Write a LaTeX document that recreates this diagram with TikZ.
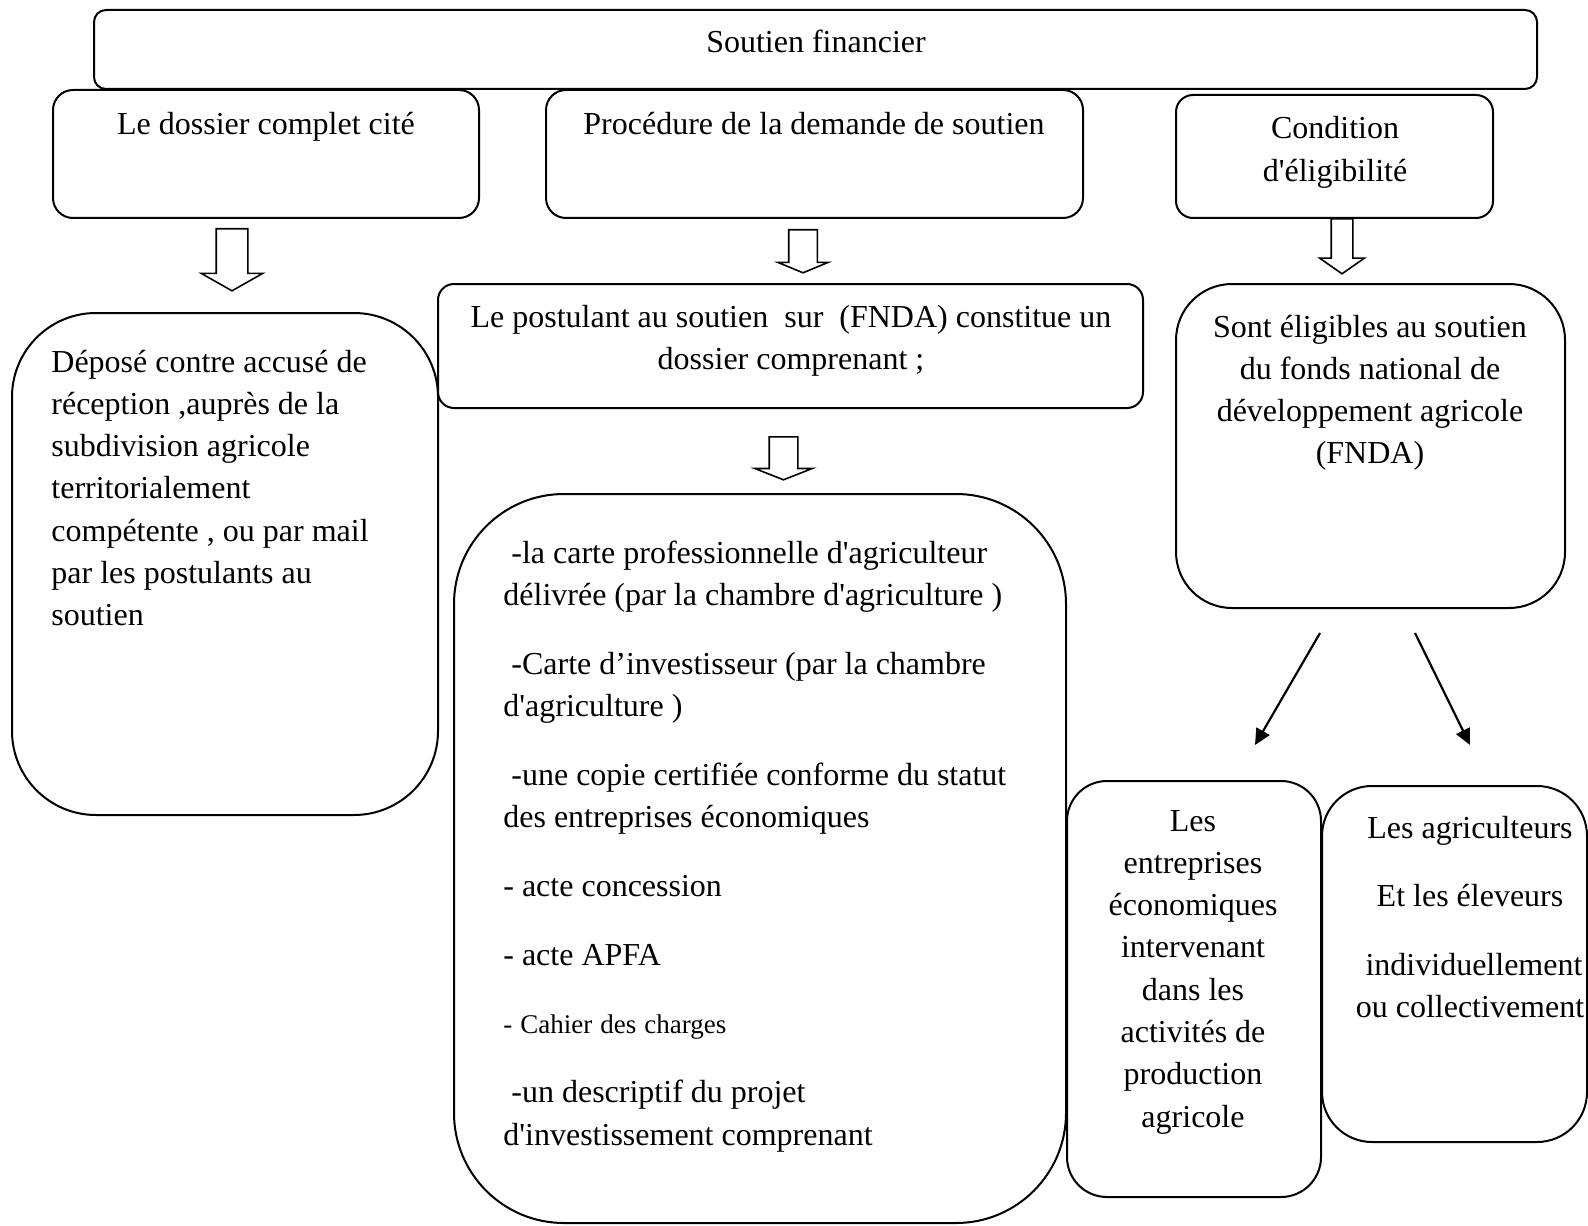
\documentclass[tikz,border=0pt]{standalone}
\usepackage{fontspec}
\setmainfont{Liberation Serif}[Ligatures=TeXOff]
\usetikzlibrary{shapes.arrows,arrows.meta}

\begin{document}
\begin{tikzpicture}[x=0.5pt,y=-0.5pt,
  boite/.style={draw, rounded corners=#1, line width=1pt, inner sep=0pt},
  texte/.style={font=\fontsize{16}{21.15}\selectfont, inner sep=0pt,
    execute at begin node={\spaceskip=\fontdimen2\font\xspaceskip=\fontdimen2\font}},
  creux/.style={draw, single arrow, shape border rotate=270,
    single arrow head indent=0pt, line width=0.8pt, anchor=tail},
  fleche/.style={-{Triangle[length=8pt,width=7.5pt]}, line width=1.1pt}]

  \useasboundingbox (0,0) rectangle (1588,1225);

  % Top row
  \node[boite=6pt, minimum width=721.5pt, minimum height=39.5pt] (soutien) at (815.5,49.5) {};
  \node[texte, anchor=base] (tsoutien) at (816,53) {Soutien financier};

  \node[boite=10pt, minimum width=213pt, minimum height=64pt] (dossier) at (266,154) {};
  \node[texte, anchor=base] (tdossier) at (266,135) {Le dossier complet cité};

  \node[boite=10pt, minimum width=268.5pt, minimum height=64pt] (procedure) at (814.5,154) {};
  \node[texte, anchor=base] (tprocedure) at (814,135) {Procédure de la demande de soutien};

  \node[boite=8.5pt, minimum width=158.5pt, minimum height=61.5pt] (condition) at (1334.5,156.5) {};
  \node[texte, anchor=base, text width=150pt, align=center] (tcondition) at (1335,139)
    {Condition\\d'éligibilité};

  % Hollow arrows
  \node[creux, inner sep=7.5pt, minimum height=31pt, single arrow head extend=7.5pt,
    single arrow tip angle=121] (a1) at (232,228) {};
  \node[creux, inner sep=6.75pt, minimum height=21.5pt, single arrow head extend=5.5pt,
    single arrow tip angle=135] (a2) at (803,229) {};
  \node[creux, inner sep=5pt, minimum height=27.5pt, single arrow head extend=5.75pt,
    single arrow tip angle=110] (a3) at (1342,218) {};
  \node[creux, inner sep=6.75pt, minimum height=21.5pt, single arrow head extend=7.25pt,
    single arrow tip angle=137] (a4) at (783.5,436) {};

  % Second row
  \node[boite=42pt, minimum width=213pt, minimum height=251pt] (depose) at (225,564) {};
  \node[texte, anchor=base west, text width=205pt, align=left] (tdepose) at (51,372)
    {Déposé contre accusé de\\réception ,auprès de la\\subdivision agricole\\territorialement\\compétente , ou par mail\\par les postulants au\\soutien};

  \node[boite=8pt, minimum width=352.5pt, minimum height=62pt] (postulant) at (790.5,346) {};
  \node[texte, anchor=base, text width=345pt, align=center] (tpostulant) at (791,327)
    {Le postulant au soutien~ sur~ (FNDA) constitue un\\dossier comprenant ;};

  \node[boite=28pt, minimum width=194.5pt, minimum height=162pt] (eligibles) at (1370.5,446) {};
  \node[texte, anchor=base, text width=190pt, align=center] (teligibles) at (1370,337)
    {Sont éligibles au soutien\\du fonds national de\\développement agricole\\(FNDA)};

  % Documents list
  \node[boite=55pt, minimum width=306pt, minimum height=364.5pt] (liste) at (760,858.5) {};
  \node[texte, anchor=base west, text width=290pt, align=left] (tliste) at (503,563)
    {~-la carte professionnelle d'agriculteur\\délivrée (par la chambre d'agriculture )\\[13.25pt]
     ~-Carte d’investisseur (par la chambre\\d'agriculture )\\[13.25pt]
     ~-une copie certifiée conforme du statut\\des entreprises économiques\\[13.25pt]
     - acte concession\\[13.25pt]
     - acte APFA\\[13.25pt]
     {\fontsize{13.5}{21.15}\selectfont - Cahier des charges}\\[13.25pt]
     ~-un descriptif du projet\\d'investissement comprenant};

  % Eligible groups
  \coordinate (d1) at (1320,633);
  \coordinate (f1) at (1255,745);
  \coordinate (d2) at (1415,633);
  \coordinate (f2) at (1470,745);
  \draw[fleche] (d1) -- (f1);
  \draw[fleche] (d2) -- (f2);

  \node[boite=20pt, minimum width=127pt, minimum height=208pt] (entreprises) at (1194,989) {};
  \node[texte, anchor=base, text width=124pt, align=center] (tentreprises) at (1193,831)
    {Les\\entreprises\\économiques\\intervenant\\dans les\\activités de\\production\\agricole};

  \node[boite=25pt, minimum width=132.5pt, minimum height=178pt] (agriculteurs) at (1454.5,964) {};
  \node[texte, anchor=base, text width=130pt, align=center] (tagriculteurs) at (1470,838)
    {Les agriculteurs\\[13.25pt]Et les éleveurs\\[13.25pt]~individuellement\\ou collectivement};

\end{tikzpicture}
\end{document}
